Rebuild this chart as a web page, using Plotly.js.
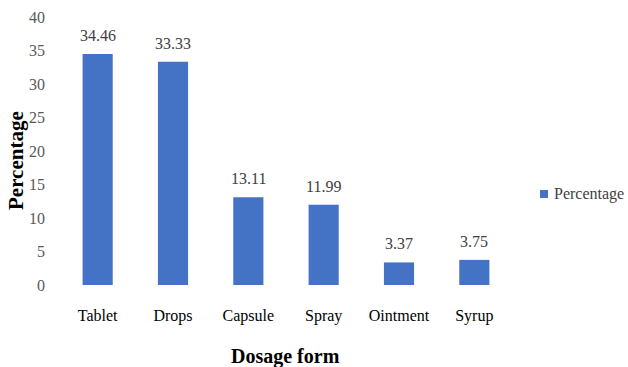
<!DOCTYPE html>
<html>
<head>
<meta charset="utf-8">
<script src="https://cdn.plot.ly/plotly-3.0.1.min.js"></script>
<style>
  html, body { margin: 0; padding: 0; background: #fff; }
  #chart { width: 628px; height: 367px; }
</style>
</head>
<body>
<div id="chart"></div>
<script>
// Dosage forms and their share (%)
const dosageForms = ['Tablet', 'Drops', 'Capsule', 'Spray', 'Ointment', 'Syrup'];
const percentages = [34.46, 33.33, 13.11, 11.99, 3.37, 3.75];
const yTicks = [0, 5, 10, 15, 20, 25, 30, 35, 40];
const seriesName = 'Percentage';
const xTitle = 'Dosage form';
const yTitle = 'Percentage';

const serif = '"Liberation Serif", "Times New Roman", Times, serif';
const barColor = '#4472C4';

// Plot area in pixels: left 60, right 512, top 17, bottom 285
const plotL = 60, plotW = 452, plotB = 285, plotH = 268;
const px = x => (x - plotL) / plotW;
const py = y => (plotB - y) / plotH;

const trace = {
  type: 'bar',
  name: seriesName,
  x: dosageForms,
  y: percentages,
  marker: { color: barColor },
  showlegend: false,
  hoverinfo: 'x+y'
};

// Value labels sitting above each bar
const valueLabels = dosageForms.map((cat, i) => ({
  x: cat,
  y: percentages[i],
  xref: 'x',
  yref: 'y',
  text: percentages[i].toFixed(2),
  showarrow: false,
  yanchor: 'bottom',
  yshift: 8,
  font: { family: serif, size: 16, color: '#404040' }
}));

// Axis titles
const axisTitles = [
  {
    x: px(285), y: py(357), xref: 'paper', yref: 'paper',
    xanchor: 'center', yanchor: 'middle',
    text: xTitle, showarrow: false,
    font: { family: serif, size: 20, color: '#000000', weight: 'bold' }
  },
  {
    x: px(16), y: py(161), xref: 'paper', yref: 'paper',
    xanchor: 'center', yanchor: 'middle', textangle: -90,
    text: yTitle, showarrow: false,
    font: { family: serif, size: 21, color: '#000000', weight: 'bold' }
  }
];

// Legend entry to the right of the plot
const legendText = {
  x: px(552), y: py(194), xref: 'paper', yref: 'paper',
  xanchor: 'left', yanchor: 'middle',
  text: seriesName, showarrow: false,
  font: { family: serif, size: 16, color: '#404040' }
};

const legendKey = {
  type: 'rect', xref: 'paper', yref: 'paper',
  x0: px(540), x1: px(548), y0: py(198), y1: py(190),
  fillcolor: barColor, line: { width: 0 }
};

const layout = {
  width: 628,
  height: 367,
  margin: { l: 60, r: 116, t: 17, b: 82, autoexpand: false },
  paper_bgcolor: '#ffffff',
  plot_bgcolor: '#ffffff',
  bargap: 0.6,
  showlegend: false,
  font: { family: serif, size: 16, color: '#404040' },
  annotations: valueLabels.concat(axisTitles, [legendText]),
  shapes: [legendKey],
  xaxis: {
    showline: false,
    showgrid: false,
    zeroline: false,
    ticks: '',
    automargin: false,
    tickfont: { family: serif, size: 16, color: '#000000' },
    ticklabelstandoff: 19
  },
  yaxis: {
    range: [0, 40],
    tickvals: yTicks,
    ticktext: yTicks.map(String),
    showline: false,
    showgrid: false,
    zeroline: false,
    ticks: '',
    automargin: false,
    tickfont: { family: serif, size: 16, color: '#595959' },
    ticklabelstandoff: 14
  }
};

Plotly.newPlot('chart', [trace], layout, { displayModeBar: false, staticPlot: true });
</script>
</body>
</html>
